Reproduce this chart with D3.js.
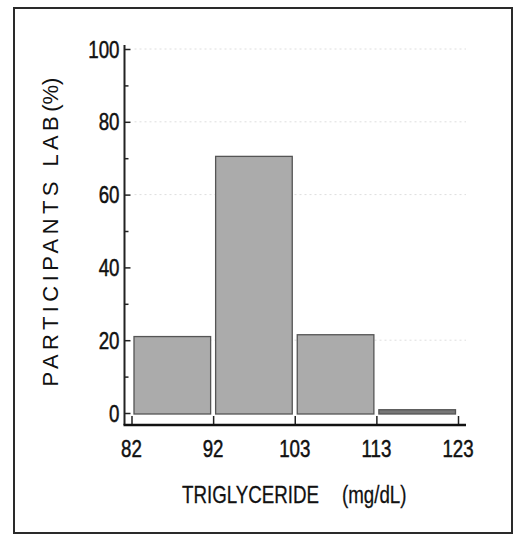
<!DOCTYPE html>
<html><head><meta charset="utf-8">
<script src="https://cdn.jsdelivr.net/npm/d3@7"></script>
<style>
html,body{margin:0;padding:0;background:#fff;}
svg{display:block;}
</style></head>
<body>
<svg id="chart" width="516" height="535"></svg>
<script>
// Data
const binEdges = ["82", "92", "103", "113", "123"];
const binValues = [21, 70.5, 21.5, 0.9];
const yTicks = [0, 20, 40, 60, 80, 100];
const yMinorTicks = [10, 30, 50, 70, 90];
const gridValues = [20, 60, 80, 100];
const xTitle = "TRIGLYCERIDE";
const xUnit = "(mg/dL)";
const yTitleMain = "PARTICIPANTS LAB";
const yTitleUnit = "(%)";

const svg = d3.select("#chart");
const sans = "'Liberation Sans', Arial, sans-serif";
const SX = 0.78; // horizontal compression to mimic a narrow typeface

// frame
svg.append("rect").attr("x", 14).attr("y", 8).attr("width", 498).attr("height", 525)
  .attr("fill", "none").attr("stroke", "#2a2a2a").attr("stroke-width", 2);

const x = d3.scalePoint().domain(binEdges).range([131.5, 458]);
const y = d3.scaleLinear().domain([0, 100]).range([413, 49]);
const axisX = 124.5, baseY = 425;

// gridlines
svg.append("g").selectAll("line").data(gridValues).join("line")
  .attr("x1", axisX + 10).attr("x2", 466)
  .attr("y1", d => y(d)).attr("y2", d => y(d))
  .attr("stroke", "#dedede").attr("stroke-width", 1).attr("stroke-dasharray", "2,3");

// bars
const bars = binValues.map((v, i) => ({v, x0: binEdges[i], x1: binEdges[i + 1]}));
svg.append("g").selectAll("rect").data(bars).join("rect")
  .attr("x", d => x(d.x0) + 2.5)
  .attr("width", d => x(d.x1) - x(d.x0) - 5)
  .attr("y", d => y(d.v))
  .attr("height", d => y(0) - y(d.v) + 1)
  .attr("fill", (d, i) => i === 3 ? "#777" : "#ababab")
  .attr("stroke", "#555").attr("stroke-width", 1.3);

// y axis
const gy = svg.append("g").attr("transform", `translate(${axisX},0)`)
  .call(d3.axisRight(y).tickValues(yTicks).tickSize(6).tickFormat(""));
gy.select(".domain").remove();
gy.selectAll(".tick line").attr("stroke", "#222").attr("stroke-width", 1.5);
svg.append("line").attr("x1", axisX).attr("x2", axisX).attr("y1", 45).attr("y2", baseY)
  .attr("stroke", "#222").attr("stroke-width", 2);
const gyMinor = svg.append("g").attr("transform", `translate(${axisX},0)`)
  .call(d3.axisRight(y).tickValues(yMinorTicks).tickSize(4).tickFormat(""));
gyMinor.select(".domain").remove();
gyMinor.selectAll(".tick line").attr("stroke", "#222").attr("stroke-width", 1.5);
svg.append("g").selectAll("text").data(yTicks).join("text")
  .attr("transform", d => `translate(${axisX - 5},${y(d)}) scale(${SX},1)`)
  .attr("dy", "0.36em")
  .attr("text-anchor", "end").attr("font-family", sans).attr("font-size", 24)
  .attr("fill", "#111").attr("stroke", "#111").attr("stroke-width", 0.5).text(d => d);

// x axis
const gx = svg.append("g").attr("transform", `translate(0,${baseY})`)
  .call(d3.axisTop(x).tickSize(9).tickFormat(""));
gx.select(".domain").remove();
gx.selectAll(".tick line").attr("stroke", "#222").attr("stroke-width", 1.5);
svg.append("line").attr("x1", axisX - 1).attr("x2", 466).attr("y1", baseY).attr("y2", baseY)
  .attr("stroke", "#111").attr("stroke-width", 2.5);
svg.append("g").selectAll("text").data(binEdges).join("text")
  .attr("transform", d => `translate(${x(d)},457) scale(${SX},1)`)
  .attr("text-anchor", "middle").attr("font-family", sans).attr("font-size", 24)
  .attr("fill", "#111").attr("stroke", "#111").attr("stroke-width", 0.5).text(d => d);

// x title
svg.append("text").attr("transform", `translate(182,503) scale(${SX},1)`)
  .attr("font-family", sans).attr("font-size", 24).attr("fill", "#111")
  .attr("stroke", "#111").attr("stroke-width", 0.3).text(xTitle);
svg.append("text").attr("transform", `translate(342,503) scale(${SX},1)`)
  .attr("font-family", sans).attr("font-size", 24).attr("fill", "#111")
  .attr("stroke", "#111").attr("stroke-width", 0.3).text(xUnit);

// y title
const yt = svg.append("text").attr("transform", "translate(58,232) rotate(-90)")
  .attr("text-anchor", "middle").attr("font-family", sans).attr("font-size", 22).attr("fill", "#111");
yt.append("tspan").attr("letter-spacing", 4.4).text(yTitleMain);
yt.append("tspan").text(yTitleUnit);
</script>
</body></html>
